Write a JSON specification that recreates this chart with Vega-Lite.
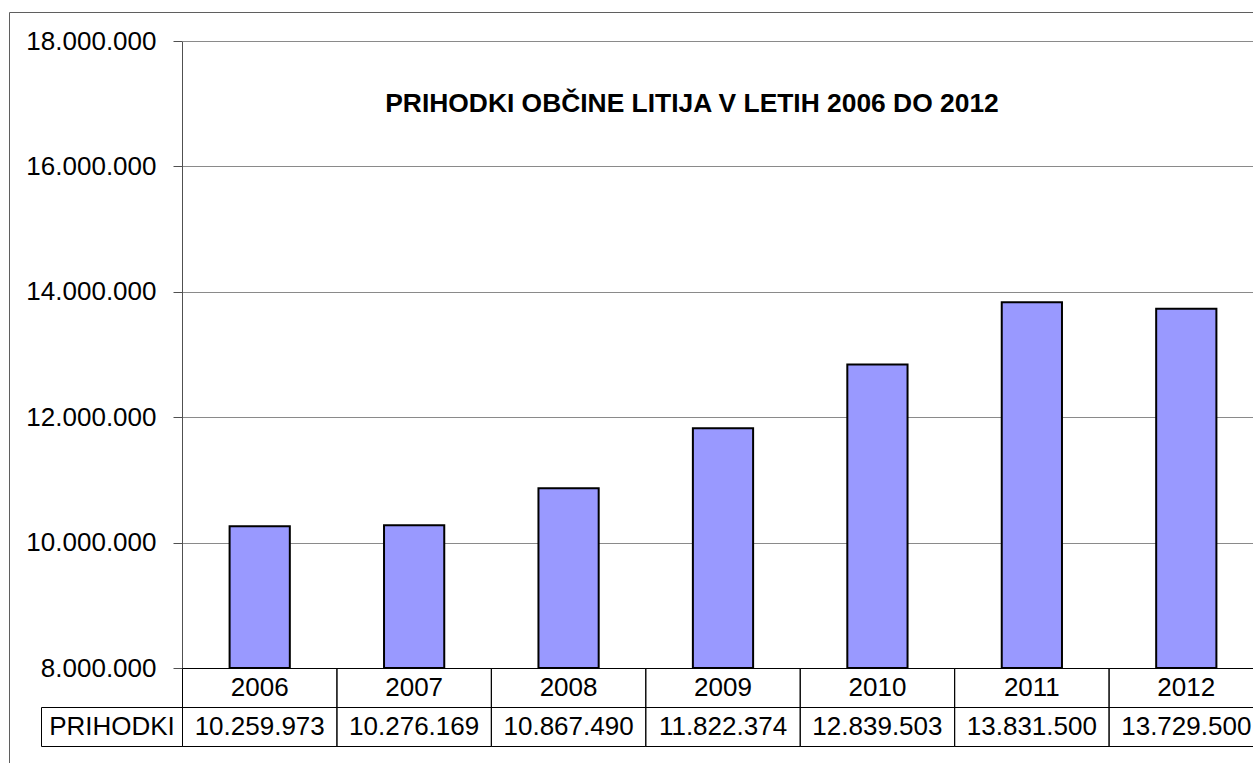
{
  "$schema": "https://vega.github.io/schema/vega-lite/v6.json",
  "width": 1300,
  "height": 800,
  "padding": {"left": 9, "top": 12, "right": 0, "bottom": 0},
  "autosize": {"type": "none"},
  "background": "white",
  "config": {
    "locale": {"number": {"decimal": ",", "thousands": ".", "grouping": [3], "currency": ["", " €"]}},
    "view": {"stroke": "#5f5f5f", "strokeWidth": 1},
    "font": "Liberation Sans",
    "text": {"font": "Liberation Sans", "fontSize": 26, "color": "#000000"}
  },
  "title": {
    "text": "PRIHODKI OBČINE LITIJA V LETIH 2006 DO 2012",
    "font": "Liberation Sans",
    "fontSize": 26.4,
    "fontWeight": "bold",
    "color": "#000000",
    "anchor": "middle",
    "frame": "group",
    "baseline": "alphabetic",
    "offset": -126,
    "dx": 33
  },
  "datasets": {
    "prihodki": [
      {"leto": "2006", "prihodki": 10259973},
      {"leto": "2007", "prihodki": 10276169},
      {"leto": "2008", "prihodki": 10867490},
      {"leto": "2009", "prihodki": 11822374},
      {"leto": "2010", "prihodki": 12839503},
      {"leto": "2011", "prihodki": 13831500},
      {"leto": "2012", "prihodki": 13729500}
    ],
    "glava": [{"serija": "PRIHODKI"}]
  },
  "resolve": {
    "scale": {"x": "independent", "y": "independent"},
    "axis": {"x": "independent", "y": "independent"}
  },
  "layer": [
    {
      "data": {"name": "prihodki"},
      "mark": {"type": "bar", "width": {"band": 0.39}, "fill": "#9999ff", "stroke": "#000000", "strokeWidth": 2},
      "encoding": {
        "x": {"field": "leto", "type": "nominal", "sort": null,
              "scale": {"range": [173.5, 1254.5], "paddingInner": 0, "paddingOuter": 0}, "axis": null},
        "y": {"field": "prihodki", "type": "quantitative",
              "scale": {"domain": [8000000, 18000000], "range": [656, 29], "zero": false, "nice": false},
              "axis": {"orient": "left", "offset": -173, "values": [8000000, 10000000, 12000000, 14000000, 16000000, 18000000],
                       "format": ",d", "title": null, "grid": true, "gridColor": "#8a8a8a", "gridWidth": 1,
                       "domainColor": "#505050", "domainWidth": 1, "tickColor": "#505050", "tickSize": 9,
                       "labelFont": "Liberation Sans", "labelFontSize": 26, "labelColor": "#000000", "labelPadding": 17}},
        "y2": {"datum": 8000000}
      }
    },
    {
      "data": {"name": "prihodki"},
      "mark": {"type": "rect", "fill": null, "fillOpacity": 0, "stroke": "#000000", "strokeWidth": 1},
      "encoding": {
        "x": {"field": "leto", "type": "nominal", "sort": null,
              "scale": {"range": [173.5, 1254.5], "paddingInner": 0, "paddingOuter": 0}, "axis": null},
        "y": {"datum": 0, "type": "quantitative", "scale": {"domain": [0, 2], "range": [656.5, 734.5], "zero": false, "nice": false}, "axis": null},
        "y2": {"datum": 1}
      }
    },
    {
      "data": {"name": "prihodki"},
      "mark": {"type": "text", "baseline": "middle", "align": "center", "fontSize": 26},
      "encoding": {
        "x": {"field": "leto", "type": "nominal", "sort": null,
              "scale": {"range": [173.5, 1254.5], "paddingInner": 0, "paddingOuter": 0}, "axis": null},
        "y": {"datum": 0.5, "type": "quantitative", "scale": {"domain": [0, 2], "range": [656.5, 734.5], "zero": false, "nice": false}, "axis": null},
        "text": {"field": "leto", "type": "nominal"}
      }
    },
    {
      "data": {"name": "prihodki"},
      "mark": {"type": "rect", "fill": null, "fillOpacity": 0, "stroke": "#000000", "strokeWidth": 1},
      "encoding": {
        "x": {"field": "leto", "type": "nominal", "sort": null,
              "scale": {"range": [173.5, 1254.5], "paddingInner": 0, "paddingOuter": 0}, "axis": null},
        "y": {"datum": 1, "type": "quantitative", "scale": {"domain": [0, 2], "range": [656.5, 734.5], "zero": false, "nice": false}, "axis": null},
        "y2": {"datum": 2}
      }
    },
    {
      "data": {"name": "prihodki"},
      "mark": {"type": "text", "baseline": "middle", "align": "center", "fontSize": 26},
      "encoding": {
        "x": {"field": "leto", "type": "nominal", "sort": null,
              "scale": {"range": [173.5, 1254.5], "paddingInner": 0, "paddingOuter": 0}, "axis": null},
        "y": {"datum": 1.5, "type": "quantitative", "scale": {"domain": [0, 2], "range": [656.5, 734.5], "zero": false, "nice": false}, "axis": null},
        "text": {"field": "prihodki", "type": "quantitative", "format": ",d"}
      }
    },
    {
      "data": {"name": "glava"},
      "mark": {"type": "rect", "fill": null, "fillOpacity": 0, "stroke": "#000000", "strokeWidth": 1},
      "encoding": {
        "x": {"field": "serija", "type": "nominal",
              "scale": {"range": [32.5, 173.5], "paddingInner": 0, "paddingOuter": 0}, "axis": null},
        "y": {"datum": 1, "type": "quantitative", "scale": {"domain": [0, 2], "range": [656.5, 734.5], "zero": false, "nice": false}, "axis": null},
        "y2": {"datum": 2}
      }
    },
    {
      "data": {"name": "glava"},
      "mark": {"type": "text", "baseline": "middle", "align": "center", "fontSize": 26},
      "encoding": {
        "x": {"field": "serija", "type": "nominal",
              "scale": {"range": [32.5, 173.5], "paddingInner": 0, "paddingOuter": 0}, "axis": null},
        "y": {"datum": 1.5, "type": "quantitative", "scale": {"domain": [0, 2], "range": [656.5, 734.5], "zero": false, "nice": false}, "axis": null},
        "text": {"field": "serija", "type": "nominal"}
      }
    }
  ]
}
